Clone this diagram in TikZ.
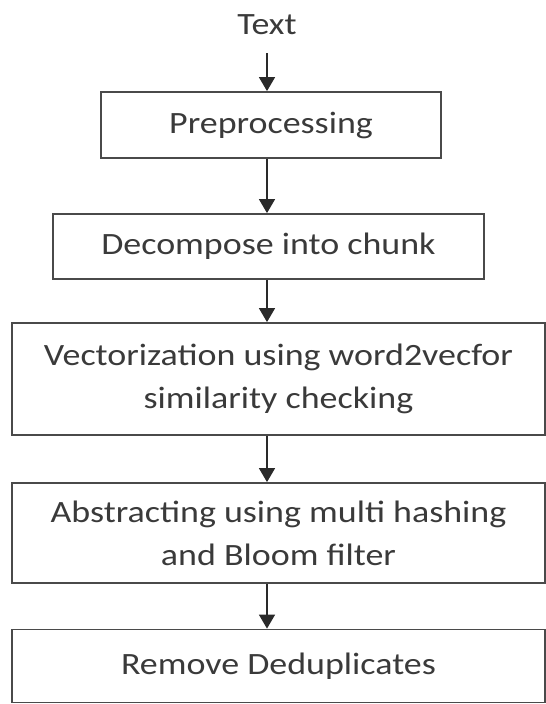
\documentclass[tikz,border=0pt]{standalone}
\usepackage{fontspec}
\setmainfont[FakeStretch=1.16]{Carlito}
\usetikzlibrary{arrows.meta,positioning}
\definecolor{txt}{HTML}{3A3A3A}
\definecolor{ln}{HTML}{4A4A4A}
\definecolor{al}{HTML}{2A2A2A}
\tikzset{
  stepbox/.style={draw=ln, line width=1.8pt, rectangle, align=center, text=txt,
    font=\fontsize{31}{43}\selectfont, inner sep=0pt},
  arr/.style={draw=al, line width=1.5pt, -{Triangle[length=14pt,width=16pt]}}
}
\begin{document}
\begin{tikzpicture}[x=1pt,y=1pt]
\useasboundingbox (0,0) rectangle (546,-704);
\node[text=txt, font=\fontsize{31}{43}\selectfont, inner sep=0pt] (t) at (267,-25) {Text};
\node[stepbox, minimum width=340pt, minimum height=66pt] (b1) at (271,-125) {Preprocessing};
\node[stepbox, minimum width=431pt, minimum height=65pt] (b2) at (268.5,-246.5) {Decompose into chunk};
\node[stepbox, minimum width=533pt, minimum height=112pt] (b3) at (278.5,-379) {Vectorization using word2vecfor\\similarity checking};
\node[stepbox, minimum width=533pt, minimum height=100pt] (b4) at (278.5,-533) {Abstracting using multi hashing\\and Bloom filter};
\node[stepbox, minimum width=533pt, minimum height=73pt] (b5) at (278.5,-666) {Remove Deduplicates};
\coordinate (a1) at (267,-53);
\draw[arr] (a1) -- (a1 |- b1.north);
\draw[arr] (a1 |- b1.south) -- (a1 |- b2.north);
\draw[arr] (a1 |- b2.south) -- (a1 |- b3.north);
\draw[arr] (a1 |- b3.south) -- (a1 |- b4.north);
\draw[arr] (a1 |- b4.south) -- (a1 |- b5.north);
\end{tikzpicture}
\end{document}
